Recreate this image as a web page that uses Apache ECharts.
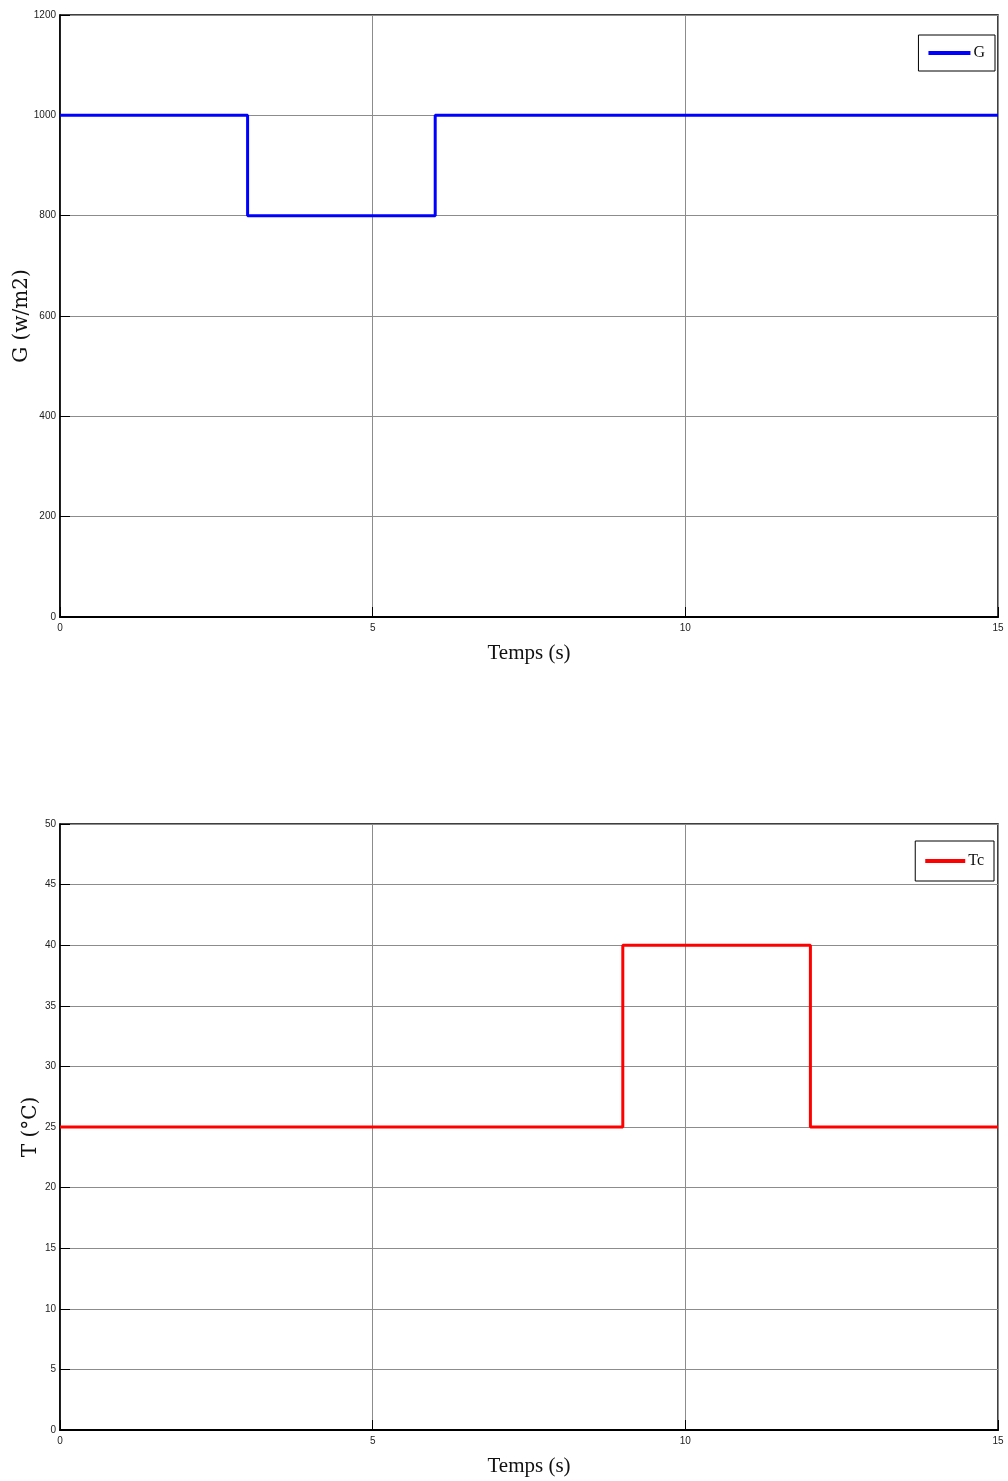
<!DOCTYPE html>
<html>
<head>
<meta charset="utf-8">
<script src="https://cdn.jsdelivr.net/npm/echarts@6/dist/echarts.min.js"></script>
<style>html,body{margin:0;padding:0;background:#fff}#c{width:1008px;height:1481px}</style>
</head>
<body>
<div id="c"></div>
<script>
const gTime = [0, 3, 6, 15];
const gValues = [1000, 800, 1000, 1000];
const tTime = [0, 9, 12, 15];
const tValues = [25, 40, 25, 25];

const chart = echarts.init(document.getElementById('c'), null, {renderer: 'canvas'});
const tickFont = {fontFamily: 'Liberation Sans Narrow, Arial Narrow, Liberation Sans, Arial', fontSize: 10, color: '#222', formatter: v => String(v)};
function xAx(gi) {
  return {
    type: 'value', gridIndex: gi, min: 0, max: 15, interval: 5,
    name: 'Temps (s)', nameLocation: 'middle', nameGap: 26,
    nameTextStyle: {fontFamily: 'Liberation Serif, Times New Roman, serif', fontSize: 21, color: '#111'},
    axisLine: {show: true, lineStyle: {color: '#000', width: 2}},
    axisTick: {show: true, inside: true, length: 10, lineStyle: {color: '#000'}},
    axisLabel: Object.assign({margin: 6}, tickFont),
    splitLine: {show: true, lineStyle: {color: '#8c8c8c', width: 1}}
  };
}
function yAx(gi, max, interval, name, gap) {
  return {
    type: 'value', gridIndex: gi, min: 0, max: max, interval: interval,
    name: name, nameLocation: 'middle', nameGap: gap, nameMoveOverlap: false,
    nameTextStyle: {fontFamily: 'DejaVu Serif, serif', fontSize: 20, color: '#111'},
    axisLine: {show: true, lineStyle: {color: '#000', width: 1.5}},
    axisTick: {show: true, inside: true, length: 10, lineStyle: {color: '#000'}},
    axisLabel: Object.assign({margin: 4}, tickFont),
    splitLine: {show: true, lineStyle: {color: '#8c8c8c', width: 1}}
  };
}
const option = {
  backgroundColor: '#fff',
  animation: false,
  grid: [
    {left: 60, top: 15, right: 10, height: 602, show: true, borderColor: '#000', borderWidth: 1.5, backgroundColor: 'transparent', containLabel: false, outerBoundsMode: 'none'},
    {left: 60, top: 824, right: 10, height: 606, show: true, borderColor: '#000', borderWidth: 1.5, backgroundColor: 'transparent', containLabel: false, outerBoundsMode: 'none'}
  ],
  xAxis: [xAx(0), xAx(1)],
  yAxis: [yAx(0, 1200, 200, 'G (w/m2)', 28), yAx(1, 50, 5, 'T (°C)', 19)],
  legend: [
    {data: ['G'], right: 13, top: 35, orient: 'vertical', padding: [10, 10, 10, 10],
     borderColor: '#000', borderWidth: 1, backgroundColor: '#fff',
     icon: 'rect', itemWidth: 42, itemHeight: 4, itemGap: 4,
     textStyle: {fontFamily: 'Liberation Serif, Times New Roman, serif', fontSize: 16, color: '#111', padding: [0, 0, 0, -2]}},
    {data: ['Tc'], right: 14, top: 841, orient: 'vertical', padding: [12, 10, 12, 10],
     borderColor: '#000', borderWidth: 1, backgroundColor: '#fff',
     icon: 'rect', itemWidth: 40, itemHeight: 4, itemGap: 4,
     textStyle: {fontFamily: 'Liberation Serif, Times New Roman, serif', fontSize: 16, color: '#111', padding: [0, 0, 0, -2]}}
  ],
  series: [
    {name: 'G', type: 'line', xAxisIndex: 0, yAxisIndex: 0, step: 'end', symbol: 'none',
     color: '#0000ff', lineStyle: {color: '#0000ff', width: 3},
     data: gTime.map((t, i) => [t, gValues[i]])},
    {name: 'Tc', type: 'line', xAxisIndex: 1, yAxisIndex: 1, step: 'end', symbol: 'none',
     color: '#ff0000', lineStyle: {color: '#ff0000', width: 3},
     data: tTime.map((t, i) => [t, tValues[i]])}
  ]
};
chart.setOption(option);
</script>
</body>
</html>
